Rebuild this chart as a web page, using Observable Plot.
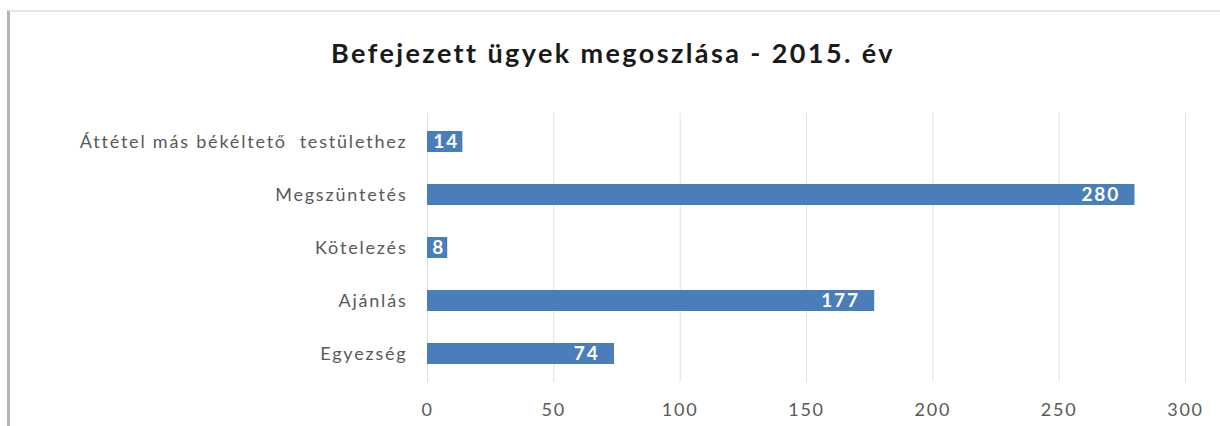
<!DOCTYPE html>
<html>
<head>
<meta charset="utf-8">
<script src="https://cdn.jsdelivr.net/npm/d3@7"></script>
<script src="https://cdn.jsdelivr.net/npm/@observablehq/plot@0.6"></script>
<style>
  html, body { margin: 0; padding: 0; background: #fff; width: 1220px; height: 426px; overflow: hidden; }
  #frame { position: absolute; left: 7px; top: 10px; width: 1213px; height: 416px;
           border-left: 3px solid #b4b4b4; border-top: 2px solid #e6e6e6; box-sizing: border-box; }
  #title { position: absolute; left: 0; top: 36px; width: 1226px; text-align: center;
           font-family: Lato, "Open Sans", sans-serif; font-weight: bold; font-size: 27px;
           letter-spacing: 2.4px; color: #1a1a1a; }
  #chart { position: absolute; left: 0; top: 100px; }
  #chart svg text { letter-spacing: 1.8px; }
</style>
</head>
<body>
<div id="frame"></div>
<div id="title">Befejezett ügyek megoszlása - 2015. év</div>
<div id="chart"></div>
<script>
const categories = ["Áttétel más békéltető  testülethez", "Megszüntetés", "Kötelezés", "Ajánlás", "Egyezség"];
const values = [14, 280, 8, 177, 74];
const xTicks = [0, 50, 100, 150, 200, 250, 300];

const data = categories.map((c, i) => ({category: c, value: values[i]}));
const big = data.filter(d => d.value >= 50);
const small = data.filter(d => d.value < 50);

const chart = Plot.plot({
  width: 1220,
  height: 326,
  marginLeft: 427,
  marginRight: 35,
  marginTop: 13,
  marginBottom: 44,
  style: {fontFamily: "Lato, 'Open Sans', sans-serif", fontSize: "18px", color: "#595959", background: "transparent"},
  x: {domain: [0, 300], ticks: xTicks, label: null},
  y: {domain: categories, label: null, paddingInner: 0.6, paddingOuter: 0.3},
  marks: [
    Plot.gridX(xTicks, {stroke: "#e0e0e0", strokeOpacity: 1}),
    Plot.barX(data, {x: "value", y: "category", fill: "#4a7ebb"}),
    Plot.text(big, {x: "value", y: "category", text: d => String(d.value), textAnchor: "end", dx: -15,
                    fill: "white", fontWeight: "bold", fontSize: 19}),
    Plot.text(small, {x: d => d.value / 2, y: "category", text: d => String(d.value), textAnchor: "middle", dx: 1,
                      fill: "white", fontWeight: "bold", fontSize: 19}),
    Plot.axisX({ticks: xTicks, tickSize: 0, tickPadding: 21, fontSize: 18, fill: "#595959"}),
    Plot.axisY({tickSize: 0, tickPadding: 20, fontSize: 18, fill: "#595959"})
  ]
});
document.getElementById("chart").appendChild(chart);
</script>
</body>
</html>
